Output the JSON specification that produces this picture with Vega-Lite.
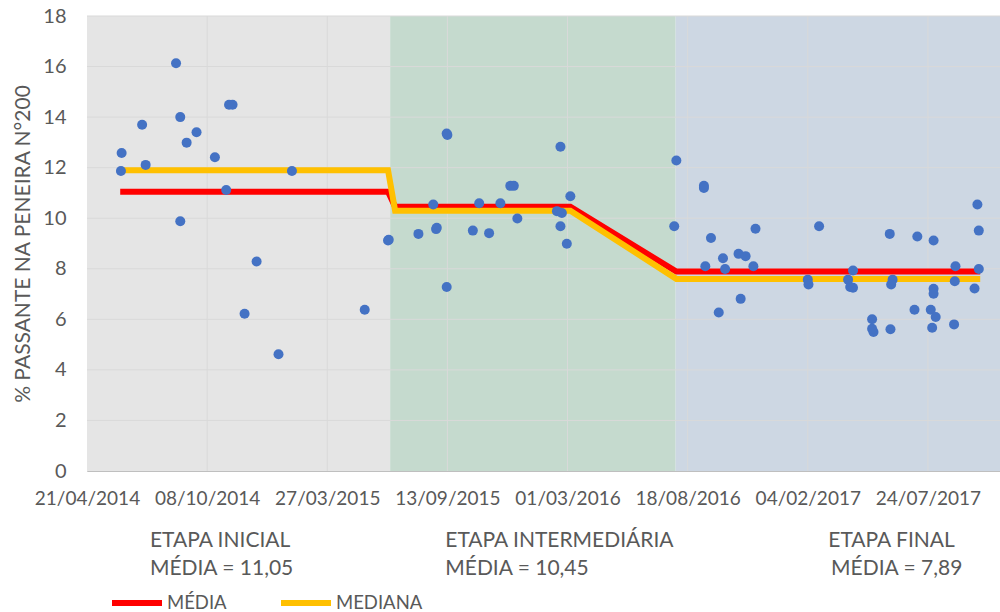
{
  "$schema": "https://vega.github.io/schema/vega-lite/v6.json",
  "width": 913,
  "height": 455,
  "autosize": "none",
  "padding": {"left": 87, "top": 16, "right": 0, "bottom": 141},
  "background": "white",
  "config": {
    "view": {"stroke": null},
    "font": "Lato",
    "axis": {"labelFont": "Lato", "titleFont": "Lato", "labelColor": "#595959", "titleColor": "#595959", "domainColor": "#BFBFBF", "ticks": false, "grid": false}
  },
  "datasets": {
    "bands": [
      {"start": "2014-04-21", "end": "2015-06-24", "etapa": "INICIAL"},
      {"start": "2015-06-24", "end": "2016-08-01", "etapa": "INTERMEDIARIA"},
      {"start": "2016-08-01", "end": "2017-11-03", "etapa": "FINAL"}
    ],
    "gridy": [{"v": 2}, {"v": 4}, {"v": 6}, {"v": 8}, {"v": 10}, {"v": 12}, {"v": 14}, {"v": 16}, {"v": 18}],
    "gridx": [{"d": "2014-10-08"}, {"d": "2015-03-27"}, {"d": "2015-09-13"}, {"d": "2016-03-01"}, {"d": "2016-08-18"}, {"d": "2017-02-04"}, {"d": "2017-07-24"}],
    "lines": [
      {"date": "2014-06-07", "valor": 11.05, "serie": "MÉDIA"},
      {"date": "2015-06-21", "valor": 11.05, "serie": "MÉDIA"},
      {"date": "2015-07-01", "valor": 10.45, "serie": "MÉDIA"},
      {"date": "2016-03-05", "valor": 10.45, "serie": "MÉDIA"},
      {"date": "2016-08-02", "valor": 7.89, "serie": "MÉDIA"},
      {"date": "2017-10-06", "valor": 7.89, "serie": "MÉDIA"},
      {"date": "2014-06-07", "valor": 11.9, "serie": "MEDIANA"},
      {"date": "2015-06-21", "valor": 11.9, "serie": "MEDIANA"},
      {"date": "2015-07-01", "valor": 10.3, "serie": "MEDIANA"},
      {"date": "2016-03-05", "valor": 10.3, "serie": "MEDIANA"},
      {"date": "2016-08-02", "valor": 7.6, "serie": "MEDIANA"},
      {"date": "2017-10-06", "valor": 7.6, "serie": "MEDIANA"}
    ],
    "points": [
      {"date": "2014-06-09", "valor": 12.58},
      {"date": "2014-06-08", "valor": 11.87},
      {"date": "2014-07-08", "valor": 13.70},
      {"date": "2014-07-13", "valor": 12.11},
      {"date": "2014-08-25", "valor": 16.13},
      {"date": "2014-08-31", "valor": 14.0},
      {"date": "2014-08-31", "valor": 9.88},
      {"date": "2014-09-09", "valor": 12.99},
      {"date": "2014-09-23", "valor": 13.40},
      {"date": "2014-10-19", "valor": 12.41},
      {"date": "2014-11-04", "valor": 11.12},
      {"date": "2014-11-08", "valor": 14.49},
      {"date": "2014-11-13", "valor": 14.49},
      {"date": "2014-12-17", "valor": 8.29},
      {"date": "2014-11-30", "valor": 6.22},
      {"date": "2015-01-17", "valor": 4.62},
      {"date": "2015-02-05", "valor": 11.87},
      {"date": "2015-05-19", "valor": 6.38},
      {"date": "2015-06-21", "valor": 9.12},
      {"date": "2015-06-22", "valor": 9.15},
      {"date": "2015-08-03", "valor": 9.38},
      {"date": "2015-08-24", "valor": 10.54},
      {"date": "2015-08-28", "valor": 9.57},
      {"date": "2015-08-29", "valor": 9.62},
      {"date": "2015-09-12", "valor": 7.28},
      {"date": "2015-09-13", "valor": 13.29},
      {"date": "2015-09-12", "valor": 13.35},
      {"date": "2015-10-19", "valor": 9.51},
      {"date": "2015-10-28", "valor": 10.59},
      {"date": "2015-11-11", "valor": 9.41},
      {"date": "2015-11-27", "valor": 10.59},
      {"date": "2015-12-11", "valor": 11.28},
      {"date": "2015-12-16", "valor": 11.28},
      {"date": "2015-12-21", "valor": 9.99},
      {"date": "2016-02-15", "valor": 10.28},
      {"date": "2016-02-22", "valor": 10.21},
      {"date": "2016-02-20", "valor": 12.83},
      {"date": "2016-02-20", "valor": 9.68},
      {"date": "2016-02-29", "valor": 8.99},
      {"date": "2016-03-05", "valor": 10.87},
      {"date": "2016-07-30", "valor": 9.68},
      {"date": "2016-08-02", "valor": 12.28},
      {"date": "2016-09-10", "valor": 11.28},
      {"date": "2016-09-10", "valor": 11.20},
      {"date": "2016-09-12", "valor": 8.10},
      {"date": "2016-09-20", "valor": 9.22},
      {"date": "2016-10-01", "valor": 6.27},
      {"date": "2016-10-07", "valor": 8.42},
      {"date": "2016-10-10", "valor": 7.99},
      {"date": "2016-10-29", "valor": 8.59},
      {"date": "2016-11-08", "valor": 8.50},
      {"date": "2016-11-01", "valor": 6.81},
      {"date": "2016-11-19", "valor": 8.10},
      {"date": "2016-11-22", "valor": 9.58},
      {"date": "2017-02-04", "valor": 7.57},
      {"date": "2017-02-05", "valor": 7.38},
      {"date": "2017-02-20", "valor": 9.68},
      {"date": "2017-04-02", "valor": 7.57},
      {"date": "2017-04-05", "valor": 7.28},
      {"date": "2017-04-09", "valor": 7.25},
      {"date": "2017-04-09", "valor": 7.93},
      {"date": "2017-05-06", "valor": 6.0},
      {"date": "2017-05-08", "valor": 5.50},
      {"date": "2017-05-06", "valor": 5.63},
      {"date": "2017-05-31", "valor": 9.38},
      {"date": "2017-06-01", "valor": 5.61},
      {"date": "2017-06-04", "valor": 7.57},
      {"date": "2017-06-02", "valor": 7.38},
      {"date": "2017-07-05", "valor": 6.38},
      {"date": "2017-07-09", "valor": 9.28},
      {"date": "2017-08-01", "valor": 9.12},
      {"date": "2017-08-01", "valor": 7.21},
      {"date": "2017-08-01", "valor": 7.01},
      {"date": "2017-07-28", "valor": 6.38},
      {"date": "2017-08-04", "valor": 6.09},
      {"date": "2017-07-30", "valor": 5.67},
      {"date": "2017-08-30", "valor": 5.80},
      {"date": "2017-08-31", "valor": 7.51},
      {"date": "2017-09-01", "valor": 8.10},
      {"date": "2017-09-28", "valor": 7.22},
      {"date": "2017-10-02", "valor": 10.54},
      {"date": "2017-10-04", "valor": 9.51},
      {"date": "2017-10-04", "valor": 7.99}
    ],
    "labels": [
      {"date": "2014-07-19", "valor": -3.0, "texto": "ETAPA INICIAL"},
      {"date": "2014-07-19", "valor": -4.1, "texto": "MÉDIA = 11,05"},
      {"date": "2015-09-10", "valor": -3.0, "texto": "ETAPA INTERMEDIÁRIA"},
      {"date": "2015-09-10", "valor": -4.1, "texto": "MÉDIA = 10,45"},
      {"date": "2017-03-05", "valor": -3.0, "texto": "ETAPA FINAL"},
      {"date": "2017-03-09", "valor": -4.1, "texto": "MÉDIA = 7,89"}
    ]
  },
  "layer": [
    {
      "data": {"name": "bands"},
      "mark": {"type": "rect"},
      "encoding": {
        "x": {"field": "start", "type": "temporal", "scale": {"type": "utc", "domain": [{"year": 2014, "month": 4, "date": 21, "utc": true}, {"year": 2017, "month": 11, "date": 3, "utc": true}]},
          "axis": {"values": [
            {"year": 2014, "month": 4, "date": 21, "utc": true},
            {"year": 2014, "month": 10, "date": 8, "utc": true},
            {"year": 2015, "month": 3, "date": 27, "utc": true},
            {"year": 2015, "month": 9, "date": 13, "utc": true},
            {"year": 2016, "month": 3, "date": 1, "utc": true},
            {"year": 2016, "month": 8, "date": 18, "utc": true},
            {"year": 2017, "month": 2, "date": 4, "utc": true},
            {"year": 2017, "month": 7, "date": 24, "utc": true}],
            "labelExpr": "utcFormat(datum.value, '%d/%m/%Y')", "labelFontSize": 19, "labelPadding": 18, "labelOverlap": false, "labelFlush": false, "title": null}},
        "x2": {"field": "end"},
        "y": {"datum": 0, "type": "quantitative", "scale": {"domain": [0, 18], "nice": false},
          "axis": {"values": [0, 2, 4, 6, 8, 10, 12, 14, 16, 18], "labelFontSize": 20, "labelPadding": 21, "title": "% PASSANTE NA PENEIRA N°200", "titleFontSize": 21, "titleFontWeight": "normal", "titlePadding": 9}},
        "y2": {"datum": 18},
        "color": {"field": "etapa", "type": "nominal", "scale": {"domain": ["INICIAL", "INTERMEDIARIA", "FINAL"], "range": ["#E5E5E5", "#C5DACE", "#CDD7E3"]}, "legend": null}
      }
    },
    {
      "data": {"name": "gridy"},
      "mark": {"type": "rule", "color": "#D9D9D9", "strokeWidth": 1},
      "encoding": {"y": {"field": "v", "type": "quantitative"}}
    },
    {
      "data": {"name": "gridx"},
      "mark": {"type": "rule", "color": "#D9D9D9", "strokeWidth": 1},
      "encoding": {"x": {"field": "d", "type": "temporal"}}
    },
    {
      "data": {"name": "lines"},
      "transform": [{"filter": "datum.serie == 'MÉDIA'"}],
      "mark": {"type": "line", "strokeWidth": 6, "strokeCap": "butt", "strokeJoin": "miter"},
      "encoding": {
        "x": {"field": "date", "type": "temporal"},
        "y": {"field": "valor", "type": "quantitative"},
        "stroke": {"field": "serie", "type": "nominal", "scale": {"domain": ["MÉDIA", "MEDIANA"], "range": ["#FF0000", "#FFC000"]},
          "legend": {"title": null, "orient": "none", "direction": "horizontal", "legendX": 22, "legendY": 559, "padding": 0, "symbolType": "stroke", "symbolSize": 2500, "symbolStrokeWidth": 6, "labelFont": "Lato", "labelFontSize": 18.5, "labelColor": "#595959", "labelOffset": 2, "columnPadding": 42}}
      }
    },
    {
      "data": {"name": "lines"},
      "transform": [{"filter": "datum.serie == 'MEDIANA'"}],
      "mark": {"type": "line", "strokeWidth": 6, "strokeCap": "butt", "strokeJoin": "miter"},
      "encoding": {
        "x": {"field": "date", "type": "temporal"},
        "y": {"field": "valor", "type": "quantitative"},
        "stroke": {"field": "serie", "type": "nominal"}
      }
    },
    {
      "data": {"name": "points"},
      "mark": {"type": "circle", "size": 100, "color": "#4472C4", "opacity": 1},
      "encoding": {
        "x": {"field": "date", "type": "temporal"},
        "y": {"field": "valor", "type": "quantitative"}
      }
    },
    {
      "data": {"name": "labels"},
      "mark": {"type": "text", "align": "left", "baseline": "alphabetic", "font": "Lato", "fontSize": 21, "color": "#595959"},
      "encoding": {
        "x": {"field": "date", "type": "temporal"},
        "y": {"field": "valor", "type": "quantitative"},
        "text": {"field": "texto"}
      }
    }
  ]
}
